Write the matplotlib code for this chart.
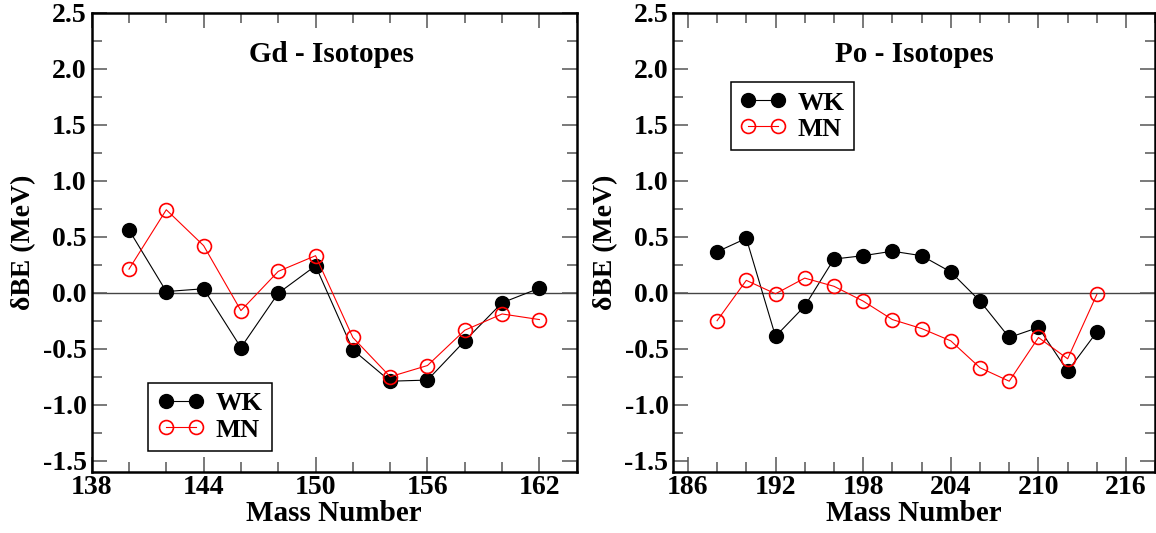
import matplotlib
matplotlib.use('Agg')
import matplotlib.pyplot as plt
from matplotlib.ticker import MultipleLocator, FormatStrFormatter

# Gd isotopes
gd_mass = [140, 142, 144, 146, 148, 150, 152, 154, 156, 158, 160, 162]
gd_wk = [0.56, 0.01, 0.035, -0.49, -0.005, 0.24, -0.51, -0.79, -0.78, -0.43, -0.09, 0.04]
gd_mn = [0.21, 0.74, 0.42, -0.16, 0.19, 0.33, -0.40, -0.75, -0.65, -0.335, -0.19, -0.24]

# Po isotopes
po_mass = [188, 190, 192, 194, 196, 198, 200, 202, 204, 206, 208, 210, 212, 214]
po_wk = [0.365, 0.485, -0.39, -0.12, 0.30, 0.33, 0.37, 0.33, 0.185, -0.075, -0.40, -0.31, -0.70, -0.35]
po_mn = [-0.25, 0.11, -0.01, 0.13, 0.057, -0.075, -0.24, -0.32, -0.43, -0.67, -0.79, -0.40, -0.59, -0.015]

plt.rcParams['font.family'] = ['Liberation Serif', 'DejaVu Serif']
plt.rcParams['font.weight'] = 'bold'
plt.rcParams['axes.labelweight'] = 'bold'

fig = plt.figure(figsize=(11.56, 5.33), dpi=100)
ax1 = fig.add_axes([0.0793, 0.1145, 0.4196, 0.862])
ax2 = fig.add_axes([0.5824, 0.1145, 0.4170, 0.862])


def setup(ax, mass, wk, mn, title, xlim, title_x, legend_xy):
    ax.axhline(0, color='#444444', lw=1, zorder=1)
    ax.plot(mass, wk, '-o', color='black', mfc='black', mec='black',
            ms=10, lw=0.8, label='WK', zorder=3)
    ax.plot(mass, mn, '-o', color='red', mfc='none', mec='red',
            ms=10, mew=1.2, lw=0.8, label='MN', zorder=4)
    ax.set_xlim(*xlim)
    ax.set_ylim(-1.6, 2.5)
    ax.xaxis.set_major_locator(MultipleLocator(6))
    ax.xaxis.set_minor_locator(MultipleLocator(2))
    ax.yaxis.set_major_locator(MultipleLocator(0.5))
    ax.yaxis.set_minor_locator(MultipleLocator(0.25))
    ax.yaxis.set_major_formatter(FormatStrFormatter('%.1f'))
    ax.tick_params(which='both', direction='in', top=True, right=True,
                   labelsize=20, color='#555555', width=1.1)
    ax.tick_params(which='major', length=11)
    ax.tick_params(which='minor', length=7)
    ax.tick_params(axis='x', which='major', pad=2)
    ax.tick_params(axis='y', which='major', pad=3.5)
    for lab in ax.get_xticklabels() + ax.get_yticklabels():
        lab.set_fontweight('bold')
    for s in ax.spines.values():
        s.set_linewidth(1.8)
    ax.set_xlabel('Mass Number', fontsize=21, fontweight='bold')
    ax.xaxis.set_label_coords(0.5, -0.06)
    ax.set_ylabel('δBE (MeV)', fontsize=20, fontweight='bold')
    ax.yaxis.set_label_coords(-0.115, 0.5)
    ax.text(title_x, 0.893, title, transform=ax.transAxes, ha='center',
            va='baseline', fontsize=21, fontweight='bold')
    leg = ax.legend(loc='lower left', bbox_to_anchor=legend_xy,
                    borderaxespad=0, numpoints=2, fontsize=19, frameon=True,
                    fancybox=False, edgecolor='black', framealpha=1,
                    handlelength=1.75, handletextpad=0.45, borderpad=0.35,
                    labelspacing=0.1)
    leg.get_frame().set_linewidth(1.1)


setup(ax1, gd_mass, gd_wk, gd_mn, 'Gd - Isotopes', (138, 164), 0.495,
      (0.117, 0.046))
setup(ax2, po_mass, po_wk, po_mn, 'Po - Isotopes', (185, 218), 0.501,
      (0.119, 0.701))

fig.savefig('out.png', dpi=100)
